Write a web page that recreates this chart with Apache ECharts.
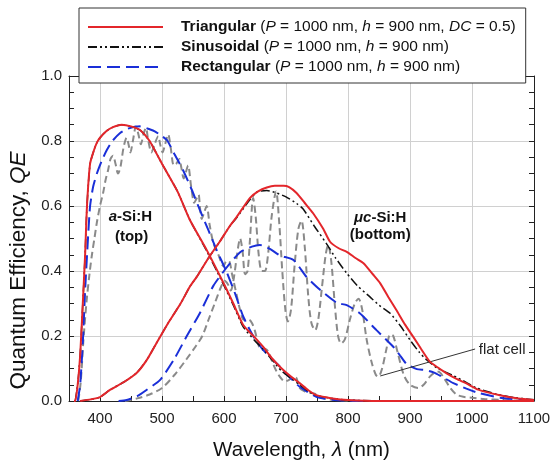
<!DOCTYPE html>
<html><head><meta charset="utf-8">
<script src="https://cdn.jsdelivr.net/npm/echarts@6/dist/echarts.min.js"></script>
<style>html,body{margin:0;padding:0;background:#fff}#c{width:552px;height:463px}</style>
</head><body><div id="c"></div>
<script>
// ---- tick labels ----
const xTickLabels = ['400','500','600','700','800','900','1000','1100'];
const yTickLabels = ['0.0','0.2','0.4','0.6','0.8','1.0'];
const legendNames = ['Triangular','Sinusoidal','Rectangular'];
const legendParams = [
  '{i|P}{n| = 1000 nm, }{i|h}{n| = 900 nm, }{i|DC}{n| = 0.5)}',
  '{i|P}{n| = 1000 nm, }{i|h}{n| = 900 nm)}',
  '{i|P}{n| = 1000 nm, }{i|h}{n| = 900 nm)}'
];

// ---- data: [wavelength nm, QE] ----
const triTop = [[358,0],[360,0],[364,0.05],[368,0.14],[372,0.29],[376,0.45],[379,0.6],[384,0.73],[390,0.77],[395,0.795],[400,0.81],[410,0.83],[420,0.842],[435,0.85],[450,0.845],[465,0.833],[480,0.8],[491,0.762],[500,0.73],[525,0.645],[545,0.557],[572,0.465],[600,0.36],[615,0.3],[631,0.234],[650,0.195],[663,0.167],[678,0.13],[693,0.1],[708,0.075],[722,0.055],[736,0.033],[749,0.018],[775,0.008],[800,0.003],[850,0],[1100,0]];
const sinTop = [[360,0],[364,0.05],[368,0.14],[372,0.29],[376,0.45],[379,0.6],[384,0.73],[390,0.77],[395,0.795],[400,0.81],[410,0.83],[420,0.842],[435,0.85],[450,0.845],[465,0.833],[480,0.8],[491,0.762],[500,0.73],[525,0.645],[545,0.557],[572,0.462],[600,0.355],[615,0.295],[631,0.228],[650,0.185],[663,0.16],[678,0.125],[693,0.092],[708,0.07],[722,0.05],[736,0.03],[749,0.017],[775,0.008],[800,0.003],[850,0]];
const recTop = [[364,0],[368,0.05],[372,0.17],[376,0.34],[380,0.48],[384,0.6],[389,0.66],[395,0.7],[403,0.74],[411,0.772],[420,0.8],[432,0.824],[445,0.838],[465,0.845],[480,0.836],[489,0.829],[500,0.815],[508,0.803],[520,0.76],[534,0.71],[548,0.65],[561,0.588],[575,0.525],[588,0.465],[604,0.398],[618,0.33],[631,0.26],[647,0.2],[663,0.157],[677,0.13],[690,0.106],[705,0.075],[722,0.044],[749,0.013],[775,0.004],[800,0.001],[850,0]];
const flatTop = [[365,0],[369,0.06],[373,0.18],[378,0.3],[383,0.39],[387,0.45],[391,0.5],[395,0.55],[400,0.6],[405,0.64],[409,0.68],[413,0.71],[417,0.745],[421,0.755],[425,0.73],[429,0.7],[433,0.72],[438,0.78],[443,0.81],[446,0.79],[449,0.765],[453,0.8],[458,0.845],[462,0.82],[466,0.79],[470,0.82],[474,0.84],[478,0.8],[483,0.765],[488,0.79],[494,0.815],[497,0.79],[501,0.765],[505,0.79],[510,0.82],[514,0.78],[519,0.725],[523,0.73],[528,0.745],[531,0.72],[535,0.685],[538,0.7],[542,0.725],[547,0.66],[552,0.61],[555,0.62],[559,0.635],[561,0.6],[564,0.56],[568,0.58],[572,0.6],[577,0.54],[583,0.485],[591,0.45],[599,0.415],[604,0.43],[608,0.43],[613,0.39],[620,0.33],[626,0.28],[632,0.25],[640,0.25],[645,0.24],[650,0.215],[656,0.17],[661,0.157],[667,0.16],[672,0.15],[678,0.12],[685,0.09],[692,0.07],[698,0.06],[705,0.065],[712,0.075],[717,0.07],[722,0.04],[730,0.03],[740,0.025],[750,0.02],[760,0.008],[780,0.003],[820,0]];

const triBot = [[368,0],[385,0.005],[400,0.012],[416,0.034],[440,0.06],[459,0.086],[475,0.125],[491,0.178],[510,0.24],[530,0.3],[545,0.352],[556,0.382],[575,0.44],[593,0.49],[610,0.54],[620,0.565],[642,0.625],[655,0.645],[669,0.657],[682,0.662],[696,0.662],[705,0.658],[717,0.64],[730,0.61],[744,0.577],[760,0.53],[771,0.49],[785,0.47],[798,0.459],[812,0.44],[825,0.424],[840,0.39],[852,0.362],[865,0.32],[878,0.28],[892,0.235],[905,0.198],[918,0.16],[932,0.121],[945,0.103],[959,0.085],[975,0.068],[991,0.054],[1010,0.035],[1045,0.018],[1075,0.008],[1100,0.003]];
const sinBot = [[368,0],[385,0.005],[400,0.012],[416,0.034],[440,0.06],[459,0.086],[475,0.125],[491,0.178],[510,0.24],[530,0.3],[545,0.352],[556,0.382],[575,0.44],[593,0.49],[610,0.54],[620,0.563],[642,0.62],[653,0.643],[669,0.648],[685,0.64],[700,0.628],[717,0.608],[728,0.59],[745,0.54],[765,0.485],[780,0.44],[798,0.393],[815,0.355],[835,0.321],[850,0.295],[868,0.27],[885,0.23],[900,0.188],[915,0.15],[927,0.126],[945,0.1],[970,0.078],[990,0.058],[1007,0.04],[1040,0.021],[1070,0.01],[1100,0.004]];
const recBot = [[430,0],[443,0.003],[460,0.015],[475,0.034],[497,0.065],[520,0.13],[540,0.2],[561,0.27],[583,0.355],[604,0.41],[626,0.458],[645,0.475],[658,0.48],[674,0.468],[690,0.448],[712,0.434],[733,0.382],[755,0.342],[782,0.302],[798,0.295],[819,0.27],[846,0.218],[873,0.167],[884,0.14],[894,0.115],[911,0.098],[925,0.095],[938,0.088],[954,0.072],[970,0.055],[991,0.038],[1010,0.025],[1045,0.01],[1100,0]];
const flatBot = [[440,0],[460,0.008],[480,0.02],[500,0.04],[520,0.08],[540,0.13],[555,0.17],[565,0.2],[575,0.25],[585,0.3],[595,0.35],[601,0.37],[606,0.36],[611,0.34],[616,0.38],[621,0.45],[626,0.5],[630,0.46],[634,0.39],[638,0.4],[642,0.5],[647,0.625],[651,0.57],[656,0.45],[661,0.4],[666,0.4],[671,0.45],[677,0.57],[684,0.645],[689,0.55],[694,0.4],[699,0.28],[703,0.245],[708,0.28],[714,0.42],[720,0.53],[725,0.555],[730,0.48],[736,0.32],[741,0.24],[747,0.218],[752,0.25],[758,0.35],[764,0.45],[768,0.48],[773,0.43],[779,0.29],[784,0.2],[789,0.177],[795,0.19],[803,0.25],[811,0.3],[817,0.315],[823,0.28],[830,0.19],[838,0.12],[845,0.08],[849,0.075],[855,0.1],[862,0.16],[868,0.205],[873,0.2],[880,0.15],[890,0.08],[900,0.05],[913,0.04],[922,0.05],[932,0.075],[940,0.088],[946,0.09],[955,0.07],[965,0.04],[975,0.02],[986,0.013],[1000,0.01],[1020,0.006],[1050,0.003],[1100,0]];

// annotation anchors (data coords)
const arrowFrom = [1005, 0.16];
const arrowTo = [852, 0.077];

const FONT = '"Liberation Sans", Arial, sans-serif';
const RED = '#e3262b', BLUE = '#1a2fd8', BLACK = '#111', GRAY = '#8a8a8a';
const LF = 15.5;

const chart = echarts.init(document.getElementById('c'), null, {renderer:'canvas'});

function lineSeries(name, data, color, width, type, z, smooth){
  return {name:name, type:'line', data:data, symbol:'none', smooth:smooth, z:z,
    lineStyle:{color:color, width:width, type:type}, itemStyle:{color:color}};
}

const axisCommon = {
  type:'value', min:350, max:1100, interval:50,
  axisLine:{show:true, onZero:false, lineStyle:{color:'#222', width:1}},
  axisTick:{show:true, inside:true, length:5, lineStyle:{color:'#222'}},
};

const option = {
  animation:false,
  backgroundColor:'#fff',
  grid:{left:69, right:18, top:76, bottom:62, containLabel:false, outerBoundsMode:'none'},
  legend:{
    data:legendNames, orient:'vertical', left:79, top:8,
    padding:[11,10,8,8], itemWidth:75, itemHeight:14, itemGap:4,
    backgroundColor:'#fff', borderColor:'#333', borderWidth:1,
    selectedMode:false,
    itemStyle:{opacity:0},
    formatter:function(name){ const i = legendNames.indexOf(name); return '{b|'+name+'} {n|(}'+legendParams[i]; },
    textStyle:{fontFamily:FONT, fontSize:LF, color:'#111',
      rich:{b:{fontFamily:FONT, fontSize:LF, fontWeight:'bold', padding:[0,0,0,13]}, n:{fontFamily:FONT, fontSize:LF}, i:{fontFamily:FONT, fontSize:LF, fontStyle:'italic'}}}
  },
  xAxis:[
    Object.assign({}, axisCommon, {position:'bottom',
      axisLabel:{show:true, margin:10, fontFamily:FONT, fontSize:15, color:'#222',
        formatter:function(v){ const s = String(Math.round(v)); return xTickLabels.indexOf(s)>=0 ? s : ''; }},
      splitLine:{show:true, lineStyle:{color:['rgba(0,0,0,0)','#d0d0d0'], width:1}},
      name:'Wavelength, {i|λ} (nm)', nameLocation:'middle', nameGap:39,
      nameTextStyle:{fontFamily:FONT, fontSize:20.5, color:'#111', rich:{i:{fontFamily:FONT, fontSize:20.5, fontStyle:'italic'}}}
    }),
    Object.assign({}, axisCommon, {position:'top', axisLabel:{show:false}, splitLine:{show:false}})
  ],
  yAxis:[
    {type:'value', min:0, max:1, interval:0.2, position:'left',
      axisLine:{show:true, lineStyle:{color:'#222'}},
      axisTick:{show:true, inside:true, length:5, lineStyle:{color:'#222'}},
      minorTick:{show:true, splitNumber:4, length:5, lineStyle:{color:'#222'}},
      axisLabel:{margin:7, fontFamily:FONT, fontSize:15, color:'#222',
        formatter:function(v){ const s = v.toFixed(1); return yTickLabels.indexOf(s)>=0 ? s : ''; }},
      splitLine:{show:true, lineStyle:{color:'#d0d0d0', width:1}},
      name:'Quantum Efficiency, {i|QE}', nameLocation:'middle', nameGap:38,
      nameTextStyle:{fontFamily:FONT, fontSize:22.5, color:'#111', padding:[0,64,0,0], rich:{i:{fontFamily:FONT, fontSize:22.5, fontStyle:'italic'}}}
    },
    {type:'value', min:0, max:1, interval:0.2, position:'right',
      axisLine:{show:true, lineStyle:{color:'#222'}},
      axisTick:{show:true, inside:true, length:5, lineStyle:{color:'#222'}},
      minorTick:{show:true, splitNumber:4, length:5, lineStyle:{color:'#222'}},
      axisLabel:{show:false}, splitLine:{show:false}}
  ],
  series:[
    lineSeries('flat cell', flatTop, GRAY, 2, [7,4], 2, 0.3),
    Object.assign(lineSeries('flat cell', flatBot, GRAY, 2, [7,4], 2, 0.3), {
      markLine:{silent:true, symbol:['none','arrow'], symbolSize:[0,9], animation:false,
        lineStyle:{color:'#333', width:1, type:'solid'}, label:{show:false},
        data:[[{coord:arrowFrom},{coord:arrowTo}]]}
    }),
    lineSeries('Rectangular', recTop, BLUE, 2, [13,6], 3, 0.2),
    lineSeries('Rectangular', recBot, BLUE, 2, [13,6], 3, 0.2),
    lineSeries('Sinusoidal', sinTop, BLACK, 1.5, [9,3,2,3,2,3], 4, 0.2),
    lineSeries('Sinusoidal', sinBot, BLACK, 1.5, [9,3,2,3,2,3], 4, 0.2),
    lineSeries('Triangular', triTop, RED, 2, 'solid', 5, 0.2),
    lineSeries('Triangular', triBot, RED, 2, 'solid', 5, 0.2)
  ]
};
chart.setOption(option);

// annotations positioned through the chart's own coordinate system
const annot = [
  {pos:[449,0.567], text:'{bi|a}{b|-Si:H}'},
  {pos:[451,0.506], text:'{b|(top)}'},
  {pos:[852,0.563], text:'{bi|μc}{b|-Si:H}'},
  {pos:[852,0.511], text:'{b|(bottom)}'}
];
const richB = {b:{fontFamily:FONT, fontSize:15, fontWeight:'bold', fill:'#111'}, bi:{fontFamily:FONT, fontSize:15, fontWeight:'bold', fontStyle:'italic', fill:'#111'}};
const gfx = annot.map(function(a){
  const p = chart.convertToPixel({gridIndex:0}, a.pos);
  return {type:'text', x:p[0], y:p[1], z:20, style:{text:a.text, rich:richB, align:'center', verticalAlign:'middle', fill:'#111'}};
});
const fc = chart.convertToPixel({gridIndex:0}, [1011, 0.157]);
gfx.push({type:'text', x:fc[0], y:fc[1], z:20, style:{text:'flat cell', fontFamily:FONT, fontSize:15, fill:'#222', align:'left', verticalAlign:'middle'}});
chart.setOption({graphic:gfx});
</script>
</body></html>
